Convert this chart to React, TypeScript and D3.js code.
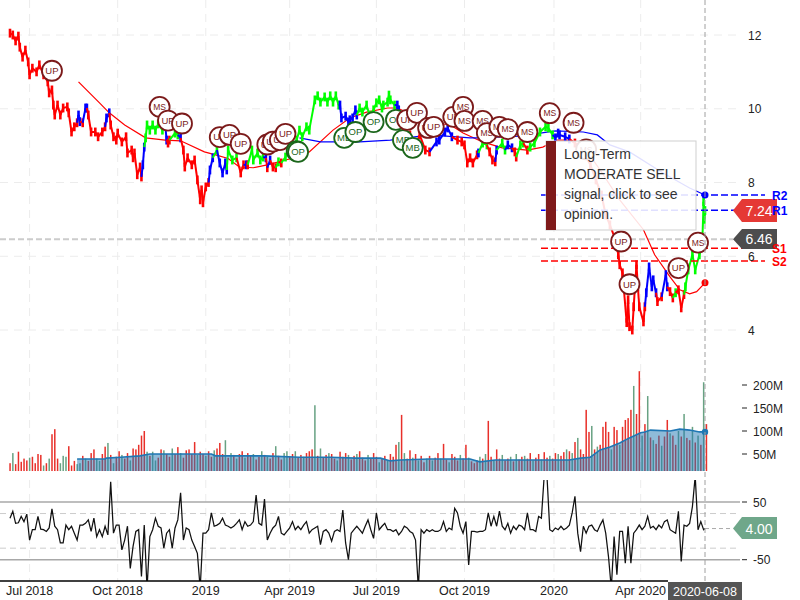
import React from "react";
import * as d3 from "d3";

type Pt = [number, number];
type CPt = [number, number, string];

const lastSession = 497;
const timeTicks: [string, number][] = [
  ["Jul 2018", 14], ["Oct 2018", 77], ["2019", 140], ["Apr 2019", 200], ["Jul 2019", 262],
  ["Oct 2019", 325], ["2020", 389], ["Apr 2020", 451],
];
const priceTicks = [12, 10, 8, 6, 4];
const volumeTicks = [200, 150, 100, 50];
const cciTicks = [50, -50];

const pricePoints: CPt[] = [
  [0,12.05,"r"],[2,12.0,"r"],[4,11.84,"r"],[6,11.97,"r"],[7,11.67,"r"],[9,11.4,"r"],[11,11.59,"r"],[13,11.27,"r"],[14,10.92,"r"],[16,11.1,"r"],[19,11.0,"r"],[21,11.19,"r"],[24,10.92,"r"],[27,10.73,"r"],[28,10.43,"r"],[30,10.51,"r"],[31,10.1,"r"],[32,9.83,"r"],[34,10.1,"r"],[36,9.83,"r"],[38,10.02,"r"],[41,10.05,"r"],[42,9.89,"r"],[44,9.37,"r"],[46,9.51,"r"],[48,9.62,"r"],
  [49,9.83,"b"],[50,9.65,"b"],[52,9.62,"r"],[54,10.02,"b"],[55,10.02,"b"],[56,9.83,"r"],[58,9.37,"r"],[61,9.37,"r"],[63,9.24,"r"],[66,9.37,"r"],[68,9.51,"r"],[69,9.75,"b"],[71,9.89,"b"],[72,9.56,"r"],[74,9.24,"r"],[76,9.15,"r"],[77,9.34,"r"],[80,9.1,"r"],[83,9.24,"r"],[84,8.8,"r"],[87,8.88,"r"],[88,8.67,"r"],[89,8.8,"r"],[91,8.21,"r"],[93,8.42,"r"],[94,8.15,"r"],
  [95,8.48,"b"],[96,8.96,"b"],[97,9.21,"g"],[98,9.56,"g"],[100,9.42,"g"],[102,9.56,"g"],[104,9.42,"g"],[106,9.59,"g"],[109,9.42,"g"],[111,9.56,"g"],[112,9.15,"b"],[113,9.07,"r"],[114,9.15,"r"],[118,9.34,"g"],[120,9.29,"g"],[122,9.21,"b"],[124,8.88,"r"],[125,8.42,"r"],[127,8.67,"r"],[130,8.48,"r"],[132,8.61,"r"],[134,8.07,"r"],[136,7.53,"r"],[137,7.8,"r"],[138,7.45,"r"],[140,7.88,"r"],[142,8.0,"r"],
  [143,8.34,"b"],[145,8.67,"b"],[148,8.88,"g"],[150,8.53,"b"],[152,8.26,"b"],[154,8.53,"b"],[155,8.34,"b"],[156,8.88,"g"],[159,8.61,"g"],[162,8.67,"g"],[165,8.26,"r"],[167,8.48,"r"],[169,8.48,"b"],[170,8.48,"r"],[173,8.88,"g"],[174,8.61,"g"],[177,8.8,"g"],[179,8.61,"g"],[181,8.69,"g"],[183,8.67,"b"],[184,8.4,"r"],[186,8.61,"b"],[188,8.42,"r"],[190,8.4,"r"],[192,8.56,"g"],[194,8.53,"r"],[197,8.69,"g"],[200,8.88,"g"],[205,9.15,"g"],[207,9.42,"g"],[209,9.24,"g"],[212,9.51,"g"],[214,9.42,"g"],
  [218,10.24,"g"],[220,10.35,"g"],[222,10.18,"g"],[225,10.32,"g"],[227,10.18,"g"],[229,10.35,"g"],[231,10.18,"g"],[233,10.35,"g"],[235,10.1,"g"],[236,10.1,"b"],[237,9.75,"b"],[240,9.8,"b"],[242,9.64,"b"],[243,9.7,"b"],[245,9.75,"b"],[247,9.97,"b"],[248,9.83,"b"],[250,10.02,"g"],[252,9.91,"g"],[255,10.1,"g"],[257,9.83,"g"],[260,9.97,"g"],[262,10.16,"g"],[264,10.24,"g"],[266,10.02,"g"],[267,10.1,"g"],[270,10.18,"g"],[271,10.37,"g"],[272,10.24,"g"],[275,10.1,"g"],[277,10.1,"b"],[278,9.97,"b"],
  [281,9.43,"r"],[286,9.29,"r"],[290,9.02,"r"],[293,9.29,"r"],[297,8.88,"r"],[300,8.83,"r"],[305,9.1,"b"],[307,9.15,"b"],[311,9.37,"b"],[313,9.48,"b"],[316,9.24,"b"],[320,9.15,"r"],[323,9.1,"r"],[325,9.02,"r"],[327,8.53,"r"],[329,8.67,"r"],[331,8.53,"r"],[334,8.75,"r"],[335,8.8,"b"],[338,9.07,"g"],[341,9.02,"g"],[343,8.83,"r"],[345,8.61,"r"],[347,8.56,"r"],[348,8.88,"b"],[352,9.07,"g"],[354,8.88,"g"],[356,9.02,"b"],[359,8.94,"b"],[361,8.83,"r"],[362,8.69,"r"],[365,9.02,"g"],[367,9.07,"g"],[370,8.88,"r"],[372,8.96,"g"],[375,9.07,"g"],[379,9.37,"g"],[383,9.51,"g"],[385,9.48,"g"],[388,9.29,"g"],[390,9.21,"b"],[392,9.34,"b"],[393,9.29,"b"],[397,9.24,"b"],[400,9.18,"b"],
  [404,9.07,"r"],[408,8.94,"r"],[411,8.75,"r"],[415,8.48,"r"],[419,8.07,"r"],[423,7.66,"r"],[426,7.12,"r"],[429,6.85,"r"],[433,6.44,"r"],[435,6.04,"r"],[436,5.77,"r"],[438,5.55,"r"],[441,4.2,"r"],[442,4.82,"r"],[443,4.09,"r"],[445,4.0,"r"],[446,4.63,"r"],[448,5.77,"r"],[449,5.17,"r"],[450,4.63,"r"],[453,4.22,"r"],[454,4.63,"r"],[455,5.01,"b"],[457,5.71,"b"],[459,5.17,"b"],[460,5.36,"b"],[462,5.01,"b"],[463,4.77,"r"],[466,4.9,"r"],[469,5.5,"b"],[470,5.17,"b"],[472,5.04,"r"],[474,4.87,"r"],[476,5.01,"g"],[478,5.09,"r"],[480,4.6,"r"],[482,4.96,"r"],[483,5.17,"g"],[485,5.63,"g"],[488,6.04,"g"],[490,5.63,"g"],[493,6.04,"g"],[495,6.3,"g"],[496,7.48,"g"],[496.5,7.0,"g"],[497,7.24,"g"],
];

const slowAverage: Pt[] = [
  [49,10.73],[64,10.16],[71,9.89],[82,9.56],[97,9.21],[111,9.15],[122,9.13],[139,8.83],[147,8.75],[156,8.65],[164,8.42],[174,8.4],[184,8.48],[197,8.61],[205,8.69],[214,8.83],[231,9.42],[243,9.75],[255,9.91],[270,10.02],[277,10.02],[288,9.83],[300,9.64],[315,9.56],[324,9.34],[338,9.1],[352,8.94],[370,8.88],[381,8.96],[391,9.15],[400,9.15],[412,8.88],[422,8.34],[436,7.53],[453,6.72],[461,6.04],[472,5.44],[479,5.09],[486,4.98],[491,5.04],[497,5.28],
];
const fastAverage: Pt[] = [
  [207,9.21],[222,9.1],[250,9.1],[272,9.15],[300,9.29],[329,9.21],[336,9.21],[365,9.26],[390,9.4],[410,9.37],[420,9.29],[429,9.02],[443,8.83],[467,8.26],[486,7.85],[497,7.66],
];

const badgeLabels = ["UP","MS","UP","UP","UP","UP","UP","UP","UP","UP","UP","OP","OP","MB","OP","OP","OP","MB","MB","UP","UP","UP","UP","UP","MS","MS","MS","MS","MS","MS","MS","MS","MS","MS","UP","UP","UP","MS"];
const badgeSessions = [30,107,113,123,150,157,165,184,188,193,197,205,206,239,247,260,276,281,288,284,291,299,303,317,324,325,338,341,350,356,370,386,403,412,437,443,478,492];
const badgePrices = [11.03,10.05,9.68,9.6,9.23,9.29,9.05,9.03,9.11,9.15,9.32,8.85,8.83,9.21,9.37,9.64,9.7,9.15,8.94,9.7,9.89,9.48,9.51,9.78,10.05,9.67,9.67,9.34,9.51,9.45,9.37,9.88,9.62,8.9,6.4,5.24,5.68,6.37];

const volumeValues = [
  30,52,28,55,33,40,36,42,44,30, 50,48,25,30,40,93,104,40,30,46, 44,67,25,35,28,30,46,40,35,52,
  60,40,35,50,66,74,48,30,44,56, 48,40,52,36,62,60,70,90,100,55, 46,55,36,42,60,58,50,44,62,50,
  65,52,42,58,60,50,76,48,55,50, 46,56,44,58,62,74,50,80,42,52, 48,40,50,56,42,52,46,50,38,44,
  56,48,44,40,52,67,46,38,52,56, 45,50,56,42,48,44,52,56,60,156, 46,62,42,48,52,50,40,36,55,44,
  52,48,38,46,50,56,42,36,48,40, 52,44,32,40,46,36,50,44,70,76, 135,52,40,58,42,50,36,46,32,40,
  46,36,42,52,40,72,38,32,50,44, 36,48,40,70,42,34,30,36,44,40, 50,122,44,36,60,40,48,36,40,44,
  34,50,38,44,46,40,52,36,42,50, 38,54,42,46,40,52,50,46,54,60, 56,52,76,85,60,50,146,98,111,60,
  66,70,109,120,98,60,109,102,70,109, 124,128,146,198,137,230,90,115,176,86, 80,72,90,68,88,124,95,90,70,100,
  88,137,85,80,109,75,90,70,206,115,
];
const volumeColors =
  "rgrrrrrgrr" + "rrgrgrrrgg" + "grrrggrgrr" + "rggrrgrgrr" + "grrgrrrrrg" + "rggrrgrrgr" + "rgrrrrrgrr" +
  "grrgrrrgrg" + "rgrrgrrgrr" + "grgrrgrrgg" + "rrgrrgrrrg" + "rgrrgrrgrr" + "rgrrgrrrgr" + "rrgrrgrrrg" +
  "rgrrgrgrrg" + "rgrrgrrgrr" + "rgrrgrrrgr" + "grrgrrgrrg" + "rgrrgrrgrr" + "grrgrrgrrg" + "rgrgrrrrgr" +
  "grrrrgrrgr" + "rrrgrrgrgr" + "grrgrrgrrg" + "rgrrgrgrgr";
const volumeAverage: Pt[] = [
  [48,39],[68,39],[69,41],[79,43],[93,46],[100,50],[144,50],[147,46],[182,46],[207,43],[229,43],[247,41],[265,41],[272,35],[279,37],[300,39],[329,39],[336,33],[347,37],[400,37],[408,41],[415,43],[422,59],[429,65],[436,74],[443,85],[451,96],[454,98],[458,102],[472,100],[479,104],[486,102],[493,98],[497,98],
];
const volumeFloor = 13;

const cciValues = [
  22,34,13,14,25,16,29,-16,2,2, 25,3,2,-1,5,38,8,2,-21,-21, 10,2,8,-4,-16,10,10,13,19,-1,
  22,-10,2,-10,8,-7,85,-4,10,10, -33,-16,8,-65,-27,-1,2,-79,10,-100, -10,2,22,8,5,-30,-4,2,-30,5,
  19,66,-16,5,2,-16,-27,-39,-100,-4, -4,2,31,8,10,13,22,10,8,5, 8,13,19,2,16,8,10,16,62,13,
  10,55,-16,-4,5,10,25,-4,-7,-1, 5,16,2,8,2,10,16,-4,2,5, 8,-24,-1,2,-4,-18,-1,2,-1,36,
  -21,-50,-4,2,8,2,-4,8,19,2, -13,31,2,8,13,2,2,-1,2,-7, -1,8,5,-1,-4,-16,-100,2,-4,2,
  -1,2,-1,-1,2,16,-1,5,2,39, 31,8,-4,16,-59,-1,-1,-2,-1,-1, 2,31,8,25,8,34,8,2,13,-4,
  8,2,10,8,2,31,2,2,-1,25, 22,95,95,2,-1,5,2,8,2,5, 10,31,60,-4,-36,8,-4,8,10,2,
  -1,10,19,-4,-45,-100,-10,-76,-1,-1, -56,8,-56,-4,2,10,2,8,25,5, 8,2,10,5,16,19,2,-1,-4,34,
  -53,10,8,13,42,95,2,16,2,4,
];

const currentPrice = 7.24;
const previousClose = 6.46;
const currentCci = 4;
const levels: [string, number, string][] = [
  ["R2", 7.66, "#0000ff"], ["R1", 7.25, "#0000ff"], ["S1", 6.22, "#ff0000"], ["S2", 5.87, "#ff0000"],
];
const tooltipLines = ["Long-Term", "MODERATE SELL", "signal, click to see", "opinion."];
const barReach = 0.12;

const WIDTH = 800, HEIGHT = 600;
const FONT = "'Liberation Sans', Arial, sans-serif";
const x = d3.scaleLinear().domain([0, lastSession]).range([10, 705]);
const yPrice = d3.scaleLinear().domain([4, 12]).range([330, 35]);
const yVol = d3.scaleLinear().domain([0, 200]).range([477, 385]);
const yCci = d3.scaleLinear().domain([-50, 50]).range([559.7, 502]);
const hues: Record<string, string> = { r: "#ff0000", b: "#0000ff", g: "#00ff00" };
const axisRight = 740;
const panelBottom = 581, volBottom = yVol(volumeFloor), cciTop = 480;

const lineOf = (yy: d3.ScaleLinear<number, number>) =>
  d3.line<Pt>().x((d) => x(d[0])).y((d) => yy(d[1]));

function Tag({ yMid, top, bottom, fill, text }: { yMid: number; top: number; bottom: number; fill: string; text: string }) {
  const path = d3.path();
  path.moveTo(733, yMid);
  path.lineTo(742, top);
  path.lineTo(777, top);
  path.lineTo(777, bottom);
  path.lineTo(742, bottom);
  path.closePath();
  return (
    <g>
      <path d={path.toString()} fill={fill} />
      <text x={759} y={yMid + 5} fill="#fff" fontSize={14} textAnchor="middle">{text}</text>
    </g>
  );
}

export default function App() {
  const volArea = d3.area<Pt>().x((d) => x(d[0])).y0(volBottom).y1((d) => yVol(d[1]));
  const cciPts: Pt[] = cciValues.map((v, i) => [Math.min(i * 2, lastSession), v]);
  return (
    <svg width={WIDTH} height={HEIGHT} style={{ position: "absolute", left: 0, top: 0, background: "#fff" }} fontFamily={FONT}>
      <defs>
        <clipPath id="cciClip"><rect x={0} y={cciTop} width={WIDTH} height={panelBottom - cciTop} /></clipPath>
      </defs>

      {/* grid */}
      {timeTicks.map(([t, s]) => (
        <g key={t} stroke="#ececec" strokeWidth={1} strokeDasharray="8 6">
          <line x1={x(s)} x2={x(s)} y1={0} y2={volBottom} />
          <line x1={x(s)} x2={x(s)} y1={cciTop} y2={panelBottom} />
        </g>
      ))}
      {priceTicks.map((p) => (
        <line key={p} x1={0} x2={axisRight} y1={yPrice(p)} y2={yPrice(p)} stroke="#ececec" strokeWidth={1} strokeDasharray="8 6" />
      ))}

      {/* previous close */}
      <line x1={0} x2={733} y1={yPrice(previousClose)} y2={yPrice(previousClose)} stroke="#cccccc" strokeWidth={2} strokeDasharray="6 3" />

      {/* averages */}
      <path d={lineOf(yPrice)(slowAverage) ?? ""} fill="none" stroke="#ff0000" strokeWidth={1.2} />
      <path d={lineOf(yPrice)(fastAverage) ?? ""} fill="none" stroke="#0000ff" strokeWidth={1.2} />

      {/* price: a connecting stroke and a high-low bar per session */}
      {pricePoints.map((d, i) => {
        const prev = pricePoints[i === 0 ? 0 : i - 1];
        return (
          <g key={i} stroke={hues[d[2]]}>
            <line x1={x(prev[0])} x2={x(d[0])} y1={yPrice(prev[1])} y2={yPrice(d[1])} strokeWidth={2} />
            <line x1={x(d[0])} x2={x(d[0])} y1={yPrice(d[1] + barReach)} y2={yPrice(d[1] - barReach)} strokeWidth={2.6} />
          </g>
        );
      })}
      <circle cx={x(lastSession)} cy={yPrice(fastAverage[fastAverage.length - 1][1])} r={3.5} fill="#0000ff" />
      <circle cx={x(lastSession)} cy={yPrice(slowAverage[slowAverage.length - 1][1])} r={3.5} fill="#ff0000" />

      {/* levels */}
      {levels.map(([n, v, c]) => (
        <line key={n} x1={541} x2={765} y1={yPrice(v)} y2={yPrice(v)} stroke={c} strokeWidth={1.5} strokeDasharray="7 3" />
      ))}

      {/* badges */}
      {badgeLabels.map((label, i) => {
        const isBuy = label === "OP" || label === "MB";
        const c = isBuy ? "#1b661b" : "#7b1a1a";
        return (
          <g key={i} transform={`translate(${x(badgeSessions[i])},${yPrice(badgePrices[i])})`}>
            <circle r={10} fill="#fff" stroke={c} strokeWidth={1.8} />
            <text y={3.3} textAnchor="middle" fill={c} fontSize={label === "MS" ? 8.5 : 9.5}>{label}</text>
          </g>
        );
      })}

      {/* volume */}
      {volumeValues.map((v, i) => (
        <rect key={i} x={x(i * 2) - 0.7} width={1.5} y={yVol(v)} height={Math.max(0, volBottom - yVol(v))}
          fill={volumeColors[i] === "g" ? "#68a283" : "#e8302a"} />
      ))}
      <path d={volArea(volumeAverage) ?? ""} fill="#1f77b4" fillOpacity={0.5} />
      <path d={lineOf(yVol)(volumeAverage) ?? ""} fill="none" stroke="#1f77b4" strokeWidth={1.6} />
      <circle cx={x(lastSession)} cy={yVol(98)} r={3.2} fill="#1f77b4" />

      {/* oscillator */}
      {cciTicks.map((v) => (
        <line key={v} x1={0} x2={axisRight} y1={yCci(v)} y2={yCci(v)} stroke="#a8a8a8" strokeWidth={1.5} />
      ))}
      {[30, -30].map((v) => (
        <line key={v} x1={0} x2={axisRight} y1={yCci(v)} y2={yCci(v)} stroke="#cccccc" strokeWidth={1} strokeDasharray="6 4" />
      ))}
      <path d={lineOf(yCci)(cciPts) ?? ""} fill="none" stroke="#111" strokeWidth={1.25} clipPath="url(#cciClip)" />
      <line x1={705} x2={733} y1={yCci(currentCci)} y2={yCci(currentCci)} stroke="#aaa" strokeWidth={1} strokeDasharray="4 3" />

      {/* crosshair */}
      <line x1={705} x2={705} y1={0} y2={panelBottom} stroke="#a0a0a0" strokeWidth={1} strokeDasharray="5 3" />

      {/* right axis */}
      {priceTicks.map((p) => (
        <text key={p} x={748} y={yPrice(p) + 4.5} fontSize={12} fill="#222">{p}</text>
      ))}
      {volumeTicks.map((v) => (
        <g key={v}>
          <line x1={742} x2={747} y1={yVol(v)} y2={yVol(v)} stroke="#222" />
          <text x={753} y={yVol(v) + 4.5} fontSize={12} fill="#222">{v}M</text>
        </g>
      ))}
      {cciTicks.map((v) => (
        <g key={v}>
          <line x1={742} x2={747} y1={yCci(v)} y2={yCci(v)} stroke="#222" />
          <text x={753} y={yCci(v) + 4.5} fontSize={12} fill="#222">{v}</text>
        </g>
      ))}

      {/* tags */}
      <Tag yMid={yPrice(currentPrice)} top={199} bottom={222} fill="#e53935" text={currentPrice.toFixed(2)} />
      <Tag yMid={yPrice(previousClose)} top={229} bottom={249} fill="#4d4d4d" text={previousClose.toFixed(2)} />
      <Tag yMid={yCci(currentCci)} top={517} bottom={539} fill="#6fa78a" text={currentCci.toFixed(2)} />
      {levels.map(([n, v, c]) => (
        <text key={n} x={772} y={yPrice(v) + 4.5} fontSize={12} fontWeight="bold" fill={c}>{n}</text>
      ))}

      {/* time axis */}
      <line x1={0} x2={668} y1={panelBottom} y2={panelBottom} stroke="#000" strokeWidth={1.5} />
      {timeTicks.map(([t, s]) => (
        <text key={t} x={x(s)} y={595} fontSize={12.5} textAnchor="middle" fill="#222">{t}</text>
      ))}
      <rect x={668} y={582} width={74} height={18} fill="#555" />
      <text x={705} y={595.5} fontSize={12.5} fill="#fff" textAnchor="middle">2020-06-08</text>

      {/* tooltip */}
      <rect x={546} y={141} width={150} height={89} fill="#fff" fillOpacity={0.88} stroke="#cfcfcf" />
      <rect x={546} y={141} width={10} height={89} fill="#7f1a1a" />
      {tooltipLines.map((t, i) => (
        <text key={t} x={564} y={159 + i * 20} fontSize={14} fill="#333">{t}</text>
      ))}
    </svg>
  );
}
